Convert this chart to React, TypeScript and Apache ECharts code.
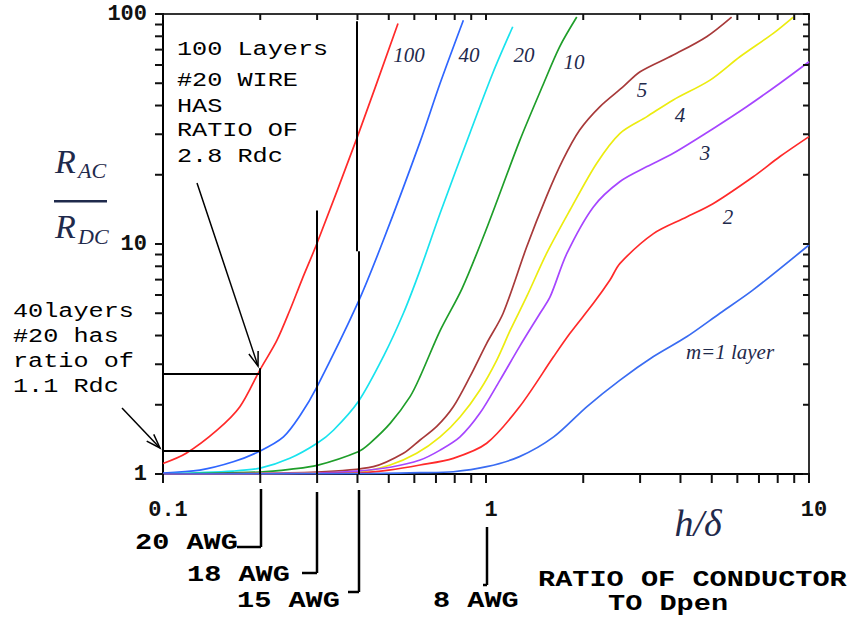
import React, { useEffect, useRef } from 'react';
import * as echarts from 'echarts';

// ---- data (x = h/δ, y = Rac/Rdc) ----
const curveNames = ['100', '40', '20', '10', '5', '4', '3', '2', 'm=1 layer'];
const curveColors = ['#ff2a2a', '#2f66ff', '#19e3ee', '#1f9e2a', '#a83a3a', '#ecec10', '#a646ff', '#ff2a2a', '#3a6cf2'];

const m100 = [[0.1, 1.11], [0.118, 1.23], [0.147, 1.55], [0.173, 1.96], [0.2, 2.85], [0.225, 3.8], [0.247, 5.15], [0.269, 6.97], [0.3, 10.1], [0.4, 29.3], [0.534, 91]];
const m40 = [[0.1, 1.01], [0.13, 1.04], [0.165, 1.13], [0.2, 1.26], [0.236, 1.45], [0.266, 1.8], [0.3, 2.4], [0.4, 5.5], [0.48, 10.3], [0.625, 27.8], [0.721, 50], [0.851, 94]];
const m20 = [[0.1, 1.0], [0.165, 1.03], [0.2, 1.06], [0.247, 1.17], [0.3, 1.36], [0.337, 1.55], [0.402, 2.06], [0.481, 3.24], [0.555, 5.0], [0.625, 7.7], [0.721, 13.6], [0.892, 30.4], [1.05, 55.4], [1.21, 88]];
const m10 = [[0.1, 1.0], [0.2, 1.02], [0.25, 1.05], [0.3, 1.09], [0.402, 1.25], [0.437, 1.36], [0.505, 1.66], [0.582, 2.17], [0.625, 2.65], [0.721, 4.2], [0.843, 6.4], [1.0, 11.5], [1.27, 28], [1.5, 49], [1.69, 72], [1.91, 97]];
const m5 = [[0.1, 1.0], [0.3, 1.02], [0.448, 1.076], [0.555, 1.23], [0.625, 1.405], [0.704, 1.61], [0.792, 1.96], [0.892, 2.65], [1.005, 3.7], [1.13, 5.0], [1.336, 9.7], [1.54, 16.1], [1.73, 23.2], [1.95, 31.3], [2.25, 39.5], [2.66, 48.3], [3.0, 56.1], [3.8, 66.3], [4.82, 79.7], [5.76, 97]];
const m4 = [[0.1, 1.0], [0.4, 1.02], [0.505, 1.094], [0.61, 1.23], [0.721, 1.45], [0.831, 1.77], [0.958, 2.32], [1.08, 3.13], [1.19, 4.23], [1.336, 5.9], [1.54, 9.1], [1.82, 14.05], [2.2, 22.4], [2.6, 30.3], [3.15, 35.8], [3.8, 42.3], [4.94, 51.6], [6.11, 65.2], [7.75, 82.4], [8.94, 97]];
const m3 = [[0.1, 1.0], [0.3, 1.01], [0.4, 1.03], [0.505, 1.07], [0.625, 1.15], [0.721, 1.27], [0.831, 1.45], [0.958, 1.84], [1.105, 2.56], [1.27, 3.58], [1.47, 5.0], [1.58, 5.9], [1.78, 9.1], [2.15, 14.5], [2.6, 18.7], [3.15, 21.7], [3.8, 24.8], [5.06, 31.8], [6.41, 39.5], [8.13, 50], [10, 62]];
const m2 = [[0.1, 1.0], [0.4, 1.01], [0.5, 1.04], [0.625, 1.094], [0.792, 1.17], [1.005, 1.36], [1.27, 1.96], [1.62, 3.24], [1.82, 4.09], [2.15, 5.52], [2.42, 6.97], [2.6, 8.24], [3.3, 11.1], [4.18, 13.1], [5.06, 15.0], [6.72, 19.6], [8.13, 24], [10, 29.3]];
const m1 = [[0.1, 1.0], [0.4, 1.003], [0.625, 1.013], [0.792, 1.023], [1.005, 1.076], [1.27, 1.19], [1.62, 1.45], [2.05, 1.96], [2.6, 2.56], [3.3, 3.24], [4.18, 3.95], [5.3, 5.0], [6.7, 6.3], [10, 9.9]];
const curves = [m100, m40, m20, m10, m5, m4, m3, m2, m1];

const xTickLabels = ['0.1', '1', '10'];
const yTickLabels = ['1', '10', '100'];
const xTicks = [0.1, 0.2, 0.3, 0.4, 0.5, 0.6, 0.7, 0.8, 0.9, 1, 2, 3, 4, 5, 6, 7, 8, 9, 10];
const yTicks = [1, 2, 3, 4, 5, 6, 7, 8, 9, 10, 20, 30, 40, 50, 60, 70, 80, 90, 100];

// annotation segments in data coordinates
const guideSegments = [
  [[0.1, 2.72], [0.2, 2.72]],
  [[0.1, 1.26], [0.2, 1.26]],
  [[0.2, 2.88], [0.2, 1]],
  [[0.3, 14], [0.3, 1]],
  [[0.398, 93], [0.398, 9.3]],
  [[0.404, 9.3], [0.404, 1]],
];

const MONO = '"Liberation Mono", "DejaVu Sans Mono", monospace';
const SERIF = '"Liberation Serif", "DejaVu Serif", serif';
const NAVY = '#1f2a4c';

function txt(text: string, x: number, y: number, font: string, fill = '#000', align = 'left', scaleX = 1, lh?: number) {
  return {
    type: 'text', x, y, scaleX, silent: true,
    style: { text, font, fill, textAlign: align, align, textVerticalAlign: 'middle', verticalAlign: 'middle', ...(lh ? { lineHeight: lh } : {}) },
  };
}
const note = (t: string, x: number, y: number) => txt(t, x, y, `21px ${MONO}`, '#000', 'left', 1.2, 21);
const bold = (t: string, x: number, y: number) => txt(t, x, y, `bold 22px ${MONO}`, '#000', 'left', 1.3, 22);

function seg(x1: number, y1: number, x2: number, y2: number, w = 2) {
  return { type: 'line', silent: true, shape: { x1, y1, x2, y2 }, style: { stroke: '#000', lineWidth: w } };
}
function arrow(x1: number, y1: number, x2: number, y2: number) {
  const a = Math.atan2(y2 - y1, x2 - x1);
  const L = 15, h = 0.33;
  const p1 = [x2 - L * Math.cos(a - h), y2 - L * Math.sin(a - h)];
  const p2 = [x2 - L * Math.cos(a + h), y2 - L * Math.sin(a + h)];
  return [
    seg(x1, y1, x2, y2, 1.5),
    { type: 'polyline', silent: true, shape: { points: [p1, [x2, y2], p2] }, style: { stroke: '#000', lineWidth: 1.5, fill: 'none' } },
  ];
}

function tickSeries(data: number[][], dx: number, dy: number) {
  return {
    type: 'custom', coordinateSystem: 'cartesian2d', silent: true, clip: false, z: 5,
    data,
    renderItem: (params: any, api: any) => {
      const p = api.coord([api.value(0), api.value(1)]);
      return { type: 'line', shape: { x1: p[0], y1: p[1], x2: p[0] + dx, y2: p[1] + dy }, style: { stroke: '#111', lineWidth: 2 } };
    },
  };
}

export default function App() {
  const ref = useRef<HTMLDivElement>(null);
  useEffect(() => {
    const chart = echarts.init(ref.current!, null, { renderer: 'svg' });
    const lineSeries = curves.map((d, i) => ({
      name: curveNames[i], type: 'line', data: d, showSymbol: false, smooth: 0.3,
      lineStyle: { color: curveColors[i], width: 1.7 }, itemStyle: { color: curveColors[i] }, z: 3,
      ...(i === 0 ? {
        markLine: {
          silent: true, symbol: ['none', 'none'], label: { show: false },
          lineStyle: { color: '#000', width: 2, type: 'solid' },
          data: guideSegments.map((s) => [{ coord: s[0] }, { coord: s[1] }]),
        },
      } : {}),
    }));

    const graphic: any[] = [
      // y-axis title R_AC / R_DC
      txt('R', 55, 161, `italic 34px ${SERIF}`, NAVY),
      txt('AC', 78, 170, `italic 22px ${SERIF}`, NAVY),
      { type: 'rect', silent: true, shape: { x: 54, y: 200, width: 53, height: 2.5 }, style: { fill: NAVY } },
      txt('R', 55, 226, `italic 34px ${SERIF}`, NAVY),
      txt('DC', 78, 236, `italic 22px ${SERIF}`, NAVY),
      // x-axis title
      txt('h/δ', 698, 523, `italic 38px ${SERIF}`, NAVY, 'center'),
      // curve labels
      txt('100', 409, 55, `italic 21px ${SERIF}`, NAVY, 'center'),
      txt('40', 469, 55, `italic 21px ${SERIF}`, NAVY, 'center'),
      txt('20', 524, 55, `italic 21px ${SERIF}`, NAVY, 'center'),
      txt('10', 574, 62, `italic 21px ${SERIF}`, NAVY, 'center'),
      txt('5', 642, 90, `italic 21px ${SERIF}`, NAVY, 'center'),
      txt('4', 680, 115, `italic 21px ${SERIF}`, NAVY, 'center'),
      txt('3', 705, 153, `italic 21px ${SERIF}`, NAVY, 'center'),
      txt('2', 728, 217, `italic 21px ${SERIF}`, NAVY, 'center'),
      txt('m=1 layer', 730, 352, `italic 21px ${SERIF}`, NAVY, 'center'),
      // annotation blocks
      note('100 Layers', 177, 50),
      note('#20 WIRE', 177, 81),
      note('HAS', 177, 107),
      note('RATIO OF', 177, 131),
      note('2.8 Rdc', 177, 157),
      note('40layers', 13, 312),
      note('#20 has', 13, 337),
      note('ratio of', 13, 362),
      note('1.1 Rdc', 13, 387),
      ...arrow(197, 183, 258, 366),
      ...arrow(122, 408, 160, 448),
      // wire gauge brackets below the axis
      seg(261, 489, 261, 547, 2.5), seg(237, 547, 261, 547, 2.5),
      seg(317, 492, 317, 573, 2.5), seg(302, 573, 317, 573, 2.5),
      seg(359, 490, 359, 592, 2.5), seg(348, 592, 359, 592, 2.5),
      seg(487, 527, 487, 585, 2.5), seg(483, 585, 487, 585, 2.5),
      bold('20 AWG', 135, 543),
      bold('18 AWG', 187, 575),
      bold('15 AWG', 237, 601),
      bold('8 AWG', 433, 601),
      bold('RATIO OF CONDUCTOR', 538, 580),
      bold('TO Dpen', 608, 604),
    ];

    chart.setOption({
      animation: false,
      backgroundColor: '#ffffff',
      grid: { left: 163, right: 47, top: 14, bottom: 144, containLabel: false, outerBoundsMode: 'none', show: true, borderColor: '#333', borderWidth: 2, backgroundColor: 'transparent' },
      xAxis: {
        type: 'log', logBase: 10, min: 0.1, max: 10,
        axisLine: { show: true, lineStyle: { color: '#000', width: 2 } },
        axisTick: { show: false }, splitLine: { show: false }, minorTick: { show: false },
        axisLabel: {
          margin: 25, padding: [0, 0, 0, 10], color: '#111', fontFamily: MONO, fontWeight: 'bold', fontSize: 22,
          formatter: (v: number) => xTickLabels[Math.round(Math.log10(v)) + 1],
        },
      },
      yAxis: {
        type: 'log', logBase: 10, min: 1, max: 100,
        axisLine: { show: true, lineStyle: { color: '#000', width: 2 } },
        axisTick: { show: false }, splitLine: { show: false }, minorTick: { show: false },
        axisLabel: {
          margin: 16, padding: [6, 0, 0, 0], color: '#111', fontFamily: MONO, fontWeight: 'bold', fontSize: 22,
          formatter: (v: number) => yTickLabels[Math.round(Math.log10(v))],
        },
      },
      series: [
        ...lineSeries,
        tickSeries(xTicks.map((v) => [v, 1]), 0, 9),
        tickSeries(xTicks.map((v) => [v, 100]), 0, 6),
        tickSeries(yTicks.map((v) => [0.1, v]), -8, 0),
        tickSeries(yTicks.map((v) => [10, v]), -6, 0),
      ],
      graphic,
    });
    return () => chart.dispose();
  }, []);
  return <div ref={ref} style={{ position: 'fixed', left: 0, top: 0, width: 856, height: 618, background: '#fff' }} />;
}
